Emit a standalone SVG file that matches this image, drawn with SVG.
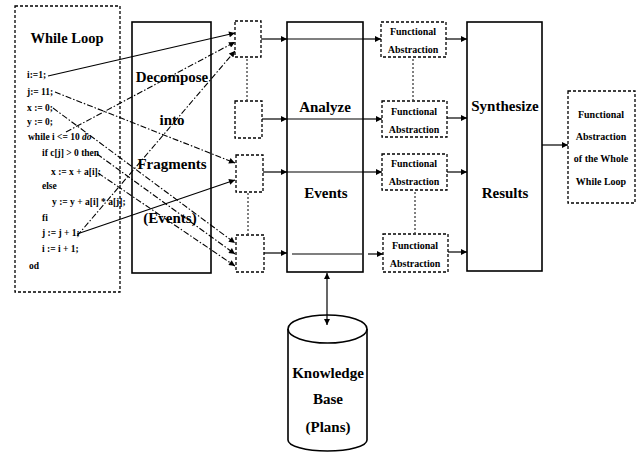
<svg xmlns="http://www.w3.org/2000/svg" width="638" height="452" viewBox="0 0 638 452" font-family="'Liberation Serif', 'Times New Roman', serif">
<defs>
<marker id="ah" viewBox="0 0 10 10" refX="10" refY="5" markerWidth="8" markerHeight="6" markerUnits="userSpaceOnUse" orient="auto-start-reverse">
<path d="M0,0 L10,5 L0,10 z" fill="#000"/>
</marker>
<style>
.solid{fill:none;stroke:#000;stroke-width:1.6}
.dash{fill:#fff;stroke:#000;stroke-width:1.3;stroke-dasharray:3 2}
.dot{fill:none;stroke:#000;stroke-width:1;stroke-dasharray:2 2}
.c{fill:none;stroke:#000;stroke-width:1.2}
.dd{fill:none;stroke:#000;stroke-width:1.1;stroke-dasharray:6 2 1.5 2}
.arr{marker-end:url(#ah)}
text{fill:#000;font-weight:bold}
.code{font-size:9.5px}
.big{font-size:15px;text-anchor:middle}
.fa{font-size:10px;text-anchor:middle}
</style>
</defs>
<rect width="638" height="452" fill="#fff"/>

<g id="while-loop">
<rect class="dash" x="15" y="6" width="105" height="286" fill="none"/>
<text x="67" y="43" font-size="14.5" text-anchor="middle">While Loop</text>
<text class="code" x="27" y="78">i:=1;</text>
<text class="code" x="27" y="95">j:= 11;</text>
<text class="code" x="27" y="111">x := 0;</text>
<text class="code" x="27" y="125">y := 0;</text>
<text class="code" x="28" y="140">while i &lt;= 10 <tspan font-style="italic">do</tspan></text>
<text class="code" x="42" y="156">if c[j] &gt; 0 then</text>
<text class="code" x="51" y="175">x := x + a[i];</text>
<text class="code" x="42" y="189">else</text>
<text class="code" x="52" y="205">y := y + a[i] * a[j];</text>
<text class="code" x="42" y="221">fi</text>
<text class="code" x="42" y="236">j := j + 1;</text>
<text class="code" x="42" y="252">i := i + 1;</text>
<text class="code" x="29" y="269">od</text>
</g>

<g id="decompose">
<rect class="solid" x="132" y="22" width="79" height="251"/>
<text class="big" x="172" y="82">Decompose</text>
<text class="big" x="172" y="125">into</text>
<text class="big" x="172" y="169">Fragments</text>
<text class="big" x="170" y="223">(Events)</text>
</g>

<g id="fragment-1"><rect class="dash" x="235" y="21" width="26" height="36"/></g>
<g id="fragment-2"><rect class="dash" x="235" y="101" width="27" height="37"/></g>
<g id="fragment-3"><rect class="dash" x="236" y="155" width="27" height="37"/></g>
<g id="fragment-4"><rect class="dash" x="236" y="235" width="28" height="37"/></g>

<g id="analyze">
<rect class="solid" x="287" y="22" width="76" height="250"/>
<text class="big" x="325" y="112">Analyze</text>
<text class="big" x="326" y="198">Events</text>
</g>

<g id="fa-1"><rect class="dash" x="381" y="22" width="65" height="35"/>
<text class="fa" x="413" y="35">Functional</text><text class="fa" x="413" y="53">Abstraction</text></g>
<g id="fa-2"><rect class="dash" x="382" y="101" width="65" height="36"/>
<text class="fa" x="414" y="115">Functional</text><text class="fa" x="414" y="133">Abstraction</text></g>
<g id="fa-3"><rect class="dash" x="382" y="154" width="65" height="36"/>
<text class="fa" x="414" y="167">Functional</text><text class="fa" x="414" y="185">Abstraction</text></g>
<g id="fa-4"><rect class="dash" x="383" y="234" width="65" height="38"/>
<text class="fa" x="415" y="249">Functional</text><text class="fa" x="415" y="267">Abstraction</text></g>

<g id="synthesize">
<rect class="solid" x="467" y="22" width="75" height="249"/>
<text class="big" x="505" y="111">Synthesize</text>
<text class="big" x="505" y="198">Results</text>
</g>

<g id="final">
<rect class="dash" x="568" y="91" width="67" height="112"/>
<text class="fa" x="601" y="118">Functional</text>
<text class="fa" x="601" y="140">Abstraction</text>
<text class="fa" x="601" y="162">of the Whole</text>
<text class="fa" x="601" y="185">While Loop</text>
</g>

<g id="knowledge-base">
<path class="solid" d="M288,329 L288,440 A39.5,11 0 0 0 367,440 L367,329" fill="#fff"/>
<ellipse class="solid" cx="327.5" cy="329" rx="39.5" ry="14"/>
<text class="big" x="328" y="378">Knowledge</text>
<text class="big" x="328" y="404">Base</text>
<text class="big" x="328" y="432">(Plans)</text>
</g>

<g id="connectors">
<line class="c arr" x1="48" y1="76" x2="235" y2="33"/>
<line class="dd arr" x1="55" y1="92" x2="235" y2="163"/>
<line class="dd arr" x1="53" y1="108" x2="235" y2="243"/>
<line class="dd arr" x1="66" y1="132" x2="235" y2="42"/>
<line class="dd arr" x1="97" y1="154" x2="235" y2="254"/>
<line class="dd arr" x1="98" y1="173" x2="235" y2="266"/>
<line class="c arr" x1="77" y1="234" x2="235" y2="180"/>
<line class="dd arr" x1="77" y1="236" x2="235" y2="51"/>

<line class="dot" x1="247" y1="59" x2="247" y2="100"/>
<line class="dot" x1="248" y1="193" x2="248" y2="234"/>
<line class="dot" x1="413" y1="59" x2="413" y2="100"/>
<line class="dot" x1="415" y1="192" x2="415" y2="233"/>

<line class="c arr" x1="261" y1="39" x2="287" y2="39"/>
<line class="c arr" x1="262" y1="119" x2="287" y2="119"/>
<line class="c arr" x1="263" y1="172" x2="287" y2="172"/>
<line class="c arr" x1="264" y1="253" x2="287" y2="253"/>
<line class="c" x1="287" y1="39" x2="363" y2="39" stroke-width="1"/>
<line class="c" x1="287" y1="119" x2="363" y2="119" stroke-width="1"/>
<line class="c" x1="287" y1="172" x2="363" y2="172" stroke-width="1"/>
<line class="c" x1="292" y1="254" x2="362" y2="254" stroke-width="1"/>
<line class="c arr" x1="363" y1="39" x2="381" y2="39"/>
<line class="c arr" x1="363" y1="119" x2="382" y2="119"/>
<line class="c arr" x1="363" y1="172" x2="382" y2="172"/>
<line class="c arr" x1="368" y1="254" x2="383" y2="254"/>

<line class="c arr" x1="446" y1="39" x2="467" y2="39"/>
<line class="c arr" x1="447" y1="118" x2="467" y2="118"/>
<line class="c arr" x1="447" y1="172" x2="467" y2="172"/>
<line class="c arr" x1="448" y1="252" x2="467" y2="252"/>

<line class="c arr" x1="542" y1="145" x2="568" y2="145"/>

<line class="c" x1="327" y1="273" x2="327" y2="325" marker-start="url(#ah)" marker-end="url(#ah)"/>
</g>
</svg>
